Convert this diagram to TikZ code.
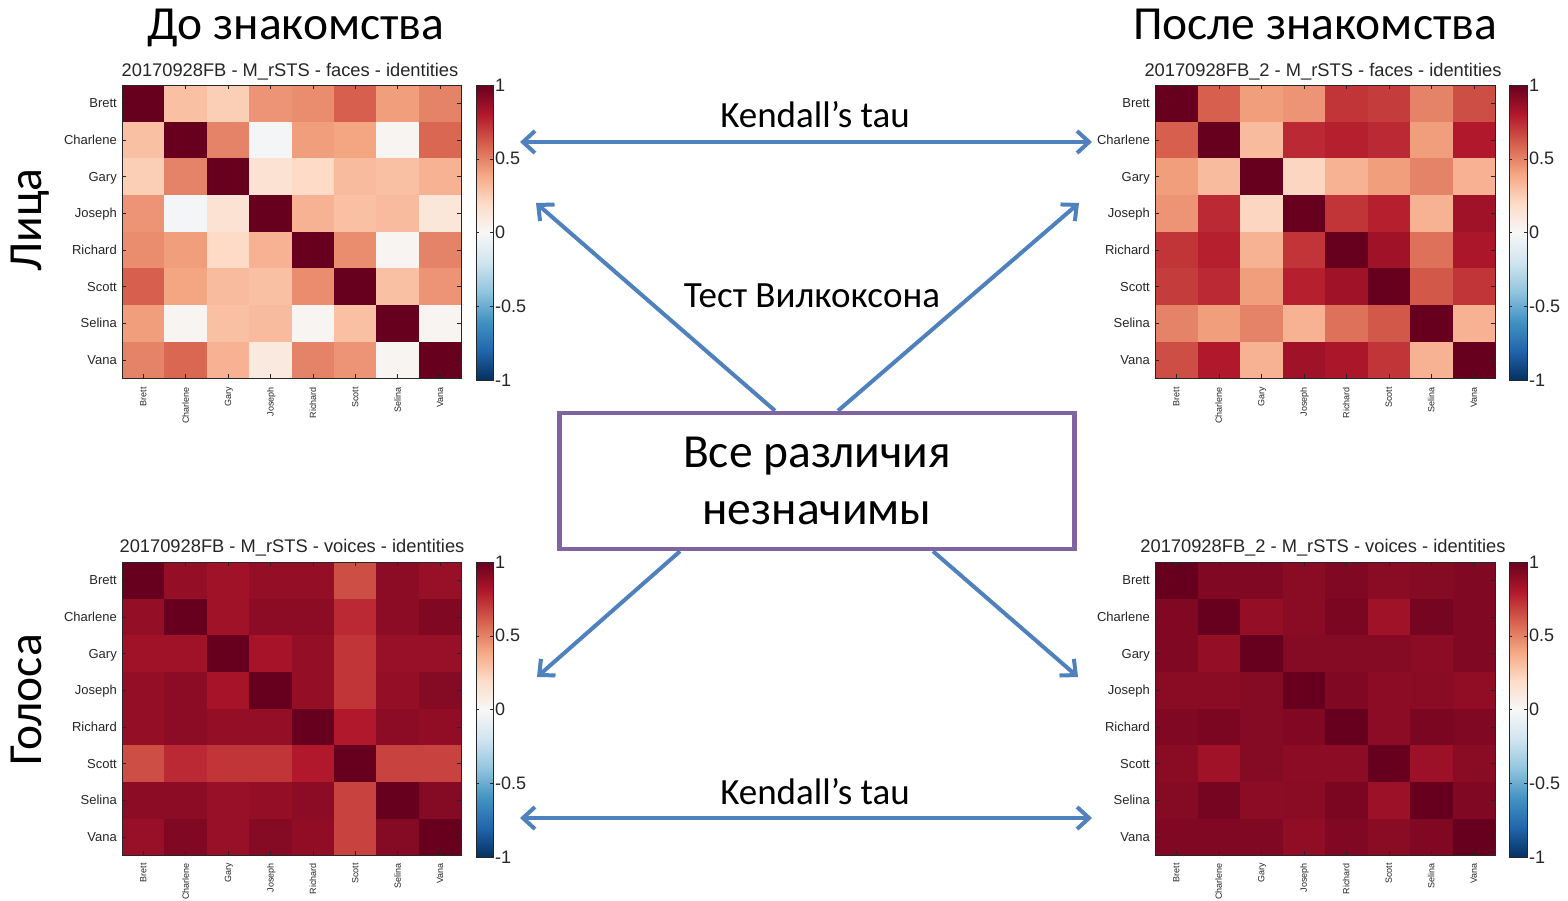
\documentclass[tikz,border=0pt]{standalone}
\usepackage{fontspec}
\setmainfont{Carlito}
\newfontfamily\plotfont{Liberation Sans}
\usetikzlibrary{arrows.meta,backgrounds}

\definecolor{rb0}{RGB}{5,48,97}
\definecolor{rb1}{RGB}{33,102,172}
\definecolor{rb2}{RGB}{67,147,195}
\definecolor{rb3}{RGB}{146,197,222}
\definecolor{rb4}{RGB}{209,229,240}
\definecolor{rb5}{RGB}{247,247,247}
\definecolor{rb6}{RGB}{253,219,199}
\definecolor{rb7}{RGB}{244,165,130}
\definecolor{rb8}{RGB}{214,96,77}
\definecolor{rb9}{RGB}{178,24,43}
\definecolor{rb10}{RGB}{103,0,31}
\definecolor{arrowblue}{RGB}{79,129,189}
\definecolor{boxpurple}{RGB}{128,100,162}
\definecolor{axisgray}{RGB}{38,38,38}

\pgfdeclareverticalshading{rdbu}{100bp}{color(0bp)=(rb0); color(25bp)=(rb0);
  color(30bp)=(rb1); color(35bp)=(rb2); color(40bp)=(rb3); color(45bp)=(rb4);
  color(50bp)=(rb5); color(55bp)=(rb6); color(60bp)=(rb7); color(65bp)=(rb8);
  color(70bp)=(rb9); color(75bp)=(rb10); color(100bp)=(rb10)}

\newcommand{\setcellcolor}[1]{%
  \pgfmathsetmacro{\cpos}{(#1+1)*5}%
  \pgfmathtruncatemacro{\cbot}{min(floor(\cpos),9)}%
  \pgfmathtruncatemacro{\ctop}{\cbot+1}%
  \pgfmathsetmacro{\cmix}{100*(\ctop-\cpos)}%
  \colorlet{cellcol}{rb\cbot!\cmix!rb\ctop}%
}

\begin{document}
\begin{tikzpicture}[x=1pt, y=-1pt, >={Straight Barb[length=12pt,width=22pt]},
    bigtext/.style={font=\fontsize{47.5}{52}\selectfont, anchor=base},
    midtext/.style={font=\fontsize{37}{42}\selectfont, anchor=base},
    plottitle/.style={font=\plotfont\fontsize{18.3}{20}\selectfont, text=axisgray, anchor=base},
    rowlab/.style={font=\plotfont\fontsize{13}{14}\selectfont, text=axisgray, anchor=base east, inner sep=1pt},
    collab/.style={font=\plotfont\fontsize{9}{10}\selectfont, text=axisgray, anchor=base east, rotate=90, inner sep=1pt},
    cbarlab/.style={font=\plotfont\fontsize{18}{20}\selectfont, text=axisgray, anchor=west, inner sep=2pt},
    frame/.style={draw=axisgray, line width=0.9pt},
    link/.style={draw=arrowblue, line width=4pt},
    resbox/.style={draw=boxpurple, line width=4.5pt, minimum width=515pt, minimum height=136pt,
      align=center, font=\fontsize{47.5}{57}\selectfont}]
    \useasboundingbox (0,0) rectangle (1568,900);

    % HEADINGS
    \node[bigtext] (before) at (296,39) {До знакомства};
    \node[bigtext] (after) at (1315,39) {После знакомства};
    \node[bigtext, rotate=90] (faces) at (41,220) {Лица};
    \node[bigtext, rotate=90] (voices) at (41,700) {Голоса};

    % FACES BEFORE
    \node[plottitle] (tfb) at (290,76.5) {20170928FB - M\_rSTS - faces - identities};
    \begin{scope}[shift={(122,85)}]
        \foreach \row [count=\i] in {
            {1,0.3,0.25,0.45,0.47,0.6,0.42,0.5},
            {0.3,1,0.5,-0.02,0.42,0.4,0.02,0.58},
            {0.25,0.5,1,0.15,0.2,0.32,0.3,0.35},
            {0.45,-0.02,0.15,1,0.35,0.3,0.32,0.12},
            {0.47,0.42,0.2,0.35,1,0.47,0.02,0.5},
            {0.6,0.4,0.32,0.3,0.47,1,0.3,0.45},
            {0.42,0.02,0.3,0.32,0.02,0.3,1,0.02},
            {0.5,0.58,0.35,0.1,0.5,0.45,0.02,1}} {
            \foreach \v [count=\j] in \row {
                \setcellcolor{\v}
                \fill[cellcol] ({(\j-1)*42.4},{(\i-1)*36.65}) rectangle ++(42.9,37.15);
            }
        }
        \draw[frame] (0,0) rectangle (339,293.2);
        \foreach \nm [count=\i] in {Brett,Charlene,Gary,Joseph,Richard,Scott,Selina,Vana} {
            \node[rowlab] (fbr\i) at (-4,{(\i-0.5)*36.65+4.6}) {\nm};
            \node[collab] (fbc\i) at ({(\i-0.5)*42.4+3.2},301) {\nm};
            \draw[axisgray] ({(\i-0.5)*42.4},0) -- ++(0,4) ({(\i-0.5)*42.4},293.2) -- ++(0,-4);
            \draw[axisgray] (0,{(\i-0.5)*36.65}) -- ++(4,0) (339,{(\i-0.5)*36.65}) -- ++(-4,0);
        }
    \end{scope}
    \shade[shading=rdbu] (476,85) rectangle (493,380);
    \draw[frame] (476,85) rectangle (493,380);
    \foreach \lab [count=\k from 0] in {1,0.5,0,-0.5,-1} {
        \draw[axisgray] (476,{85+\k*73.75}) -- ++(3,0) (493,{85+\k*73.75}) -- ++(-3,0);
        \node[cbarlab] (cfb\k) at (493,{85+\k*73.75}) {\lab};
    }

    % FACES AFTER
    \node[plottitle] (tfa) at (1323,76.5) {20170928FB\_2 - M\_rSTS - faces - identities};
    \begin{scope}[shift={(1155,85)}]
        \foreach \row [count=\i] in {
            {1,0.6,0.42,0.45,0.72,0.7,0.5,0.65},
            {0.6,1,0.32,0.75,0.78,0.75,0.42,0.8},
            {0.42,0.32,1,0.22,0.35,0.42,0.5,0.35},
            {0.45,0.75,0.22,1,0.72,0.78,0.35,0.85},
            {0.72,0.78,0.35,0.72,1,0.85,0.55,0.82},
            {0.7,0.75,0.42,0.78,0.85,1,0.62,0.72},
            {0.5,0.42,0.5,0.35,0.55,0.62,1,0.35},
            {0.65,0.8,0.35,0.85,0.82,0.72,0.35,1}} {
            \foreach \v [count=\j] in \row {
                \setcellcolor{\v}
                \fill[cellcol] ({(\j-1)*42.5},{(\i-1)*36.65}) rectangle ++(43,37.15);
            }
        }
        \draw[frame] (0,0) rectangle (340,293.2);
        \foreach \nm [count=\i] in {Brett,Charlene,Gary,Joseph,Richard,Scott,Selina,Vana} {
            \node[rowlab] (far\i) at (-4,{(\i-0.5)*36.65+4.6}) {\nm};
            \node[collab] (fac\i) at ({(\i-0.5)*42.5+3.2},301) {\nm};
            \draw[axisgray] ({(\i-0.5)*42.5},0) -- ++(0,4) ({(\i-0.5)*42.5},293.2) -- ++(0,-4);
            \draw[axisgray] (0,{(\i-0.5)*36.65}) -- ++(4,0) (340,{(\i-0.5)*36.65}) -- ++(-4,0);
        }
    \end{scope}
    \shade[shading=rdbu] (1509,85) rectangle (1527,380);
    \draw[frame] (1509,85) rectangle (1527,380);
    \foreach \lab [count=\k from 0] in {1,0.5,0,-0.5,-1} {
        \draw[axisgray] (1509,{85+\k*73.75}) -- ++(3,0) (1527,{85+\k*73.75}) -- ++(-3,0);
        \node[cbarlab] (cfa\k) at (1527,{85+\k*73.75}) {\lab};
    }

    % VOICES BEFORE
    \node[plottitle] (tvb) at (292,552) {20170928FB - M\_rSTS - voices - identities};
    \begin{scope}[shift={(122,562)}]
        \foreach \row [count=\i] in {
            {1,0.88,0.85,0.88,0.88,0.65,0.9,0.87},
            {0.88,1,0.85,0.9,0.9,0.75,0.9,0.93},
            {0.85,0.85,1,0.83,0.88,0.72,0.87,0.87},
            {0.88,0.9,0.83,1,0.88,0.72,0.88,0.92},
            {0.88,0.9,0.88,0.88,1,0.8,0.9,0.89},
            {0.65,0.75,0.72,0.72,0.8,1,0.68,0.68},
            {0.9,0.9,0.87,0.88,0.9,0.68,1,0.92},
            {0.87,0.93,0.87,0.92,0.89,0.68,0.92,1}} {
            \foreach \v [count=\j] in \row {
                \setcellcolor{\v}
                \fill[cellcol] ({(\j-1)*42.4},{(\i-1)*36.65}) rectangle ++(42.9,37.15);
            }
        }
        \draw[frame] (0,0) rectangle (339,293.2);
        \foreach \nm [count=\i] in {Brett,Charlene,Gary,Joseph,Richard,Scott,Selina,Vana} {
            \node[rowlab] (vbr\i) at (-4,{(\i-0.5)*36.65+4.6}) {\nm};
            \node[collab] (vbc\i) at ({(\i-0.5)*42.4+3.2},300) {\nm};
            \draw[axisgray] ({(\i-0.5)*42.4},0) -- ++(0,4) ({(\i-0.5)*42.4},293.2) -- ++(0,-4);
            \draw[axisgray] (0,{(\i-0.5)*36.65}) -- ++(4,0) (339,{(\i-0.5)*36.65}) -- ++(-4,0);
        }
    \end{scope}
    \shade[shading=rdbu] (476,562) rectangle (493,857);
    \draw[frame] (476,562) rectangle (493,857);
    \foreach \lab [count=\k from 0] in {1,0.5,0,-0.5,-1} {
        \draw[axisgray] (476,{562+\k*73.75}) -- ++(3,0) (493,{562+\k*73.75}) -- ++(-3,0);
        \node[cbarlab] (cvb\k) at (493,{562+\k*73.75}) {\lab};
    }

    % VOICES AFTER
    \node[plottitle] (tva) at (1323,552) {20170928FB\_2 - M\_rSTS - voices - identities};
    \begin{scope}[shift={(1155,562)}]
        \foreach \row [count=\i] in {
            {1,0.93,0.93,0.91,0.93,0.91,0.92,0.93},
            {0.93,1,0.88,0.91,0.95,0.85,0.96,0.93},
            {0.93,0.88,1,0.92,0.92,0.92,0.9,0.93},
            {0.91,0.91,0.92,1,0.93,0.9,0.91,0.89},
            {0.93,0.95,0.92,0.93,1,0.9,0.95,0.93},
            {0.91,0.85,0.92,0.9,0.9,1,0.86,0.91},
            {0.92,0.96,0.9,0.91,0.95,0.86,1,0.93},
            {0.93,0.93,0.93,0.89,0.93,0.91,0.93,1}} {
            \foreach \v [count=\j] in \row {
                \setcellcolor{\v}
                \fill[cellcol] ({(\j-1)*42.5},{(\i-1)*36.65}) rectangle ++(43,37.15);
            }
        }
        \draw[frame] (0,0) rectangle (340,293.2);
        \foreach \nm [count=\i] in {Brett,Charlene,Gary,Joseph,Richard,Scott,Selina,Vana} {
            \node[rowlab] (var\i) at (-4,{(\i-0.5)*36.65+4.6}) {\nm};
            \node[collab] (vac\i) at ({(\i-0.5)*42.5+3.2},300) {\nm};
            \draw[axisgray] ({(\i-0.5)*42.5},0) -- ++(0,4) ({(\i-0.5)*42.5},293.2) -- ++(0,-4);
            \draw[axisgray] (0,{(\i-0.5)*36.65}) -- ++(4,0) (340,{(\i-0.5)*36.65}) -- ++(-4,0);
        }
    \end{scope}
    \shade[shading=rdbu] (1509,562) rectangle (1527,857);
    \draw[frame] (1509,562) rectangle (1527,857);
    \foreach \lab [count=\k from 0] in {1,0.5,0,-0.5,-1} {
        \draw[axisgray] (1509,{562+\k*73.75}) -- ++(3,0) (1527,{562+\k*73.75}) -- ++(-3,0);
        \node[cbarlab] (cva\k) at (1527,{562+\k*73.75}) {\lab};
    }

    % TESTS
    \node[resbox] (verdict) at (817,481) {Все различия\\незначимы};
    \node[midtext] (ktop) at (815,127) {Kendall’s tau};
    \node[midtext] (kbot) at (815,804) {Kendall’s tau};
    \node[midtext] (wilc) at (812,307) {Тест Вилкоксона};

    \coordinate (ktl) at (520,142);
    \coordinate (ktr) at (1092,142);
    \coordinate (kbl) at (520,818);
    \coordinate (kbr) at (1092,818);
    \coordinate (dfb) at (536,203);
    \coordinate (dfa) at (1079,203);
    \coordinate (dvb) at (537,677);
    \coordinate (dva) at (1078,677);

    \begin{scope}[on background layer]
        \fill[white] (0,0) rectangle (1568,900);
        \draw[link, <->] (ktl) -- (ktr);
        \draw[link, <->] (kbl) -- (kbr);
        \draw[link, ->] ([xshift=-42pt]verdict.north) -- (dfb);
        \draw[link, ->] ([xshift=21pt]verdict.north) -- (dfa);
        \draw[link, ->] ([xshift=-137pt]verdict.south) -- (dvb);
        \draw[link, ->] ([xshift=116pt]verdict.south) -- (dva);
    \end{scope}
\end{tikzpicture}
\end{document}
